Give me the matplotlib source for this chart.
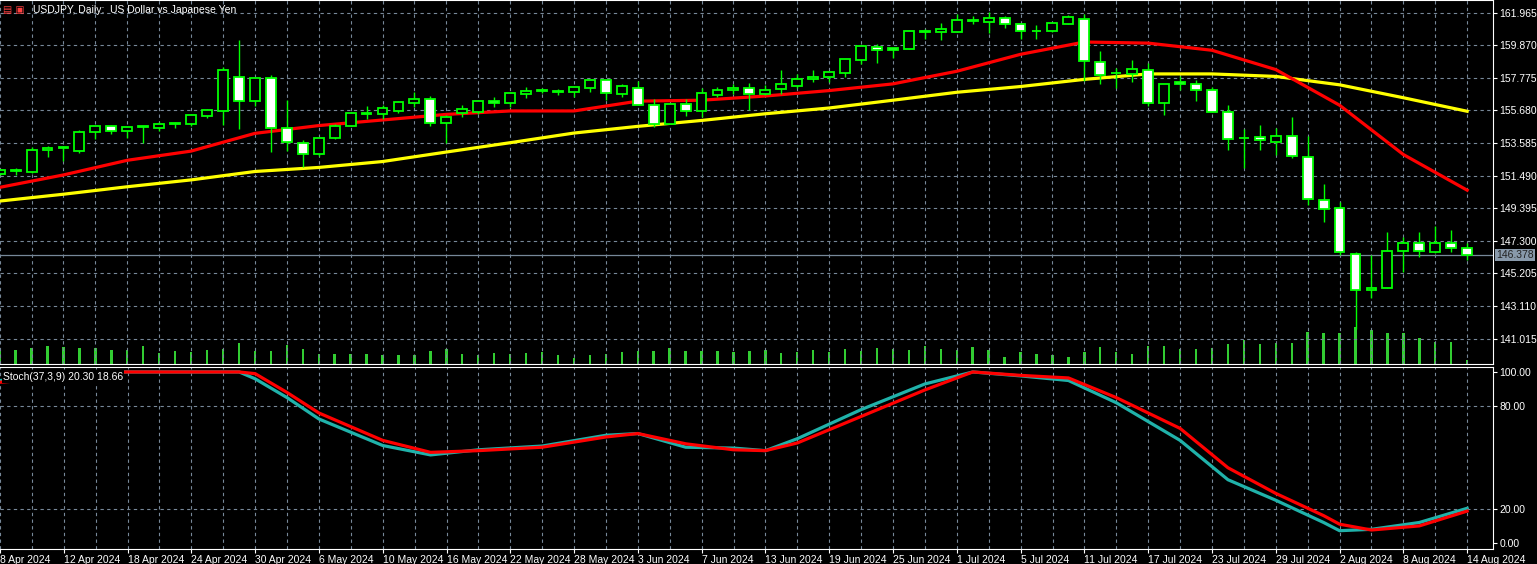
import numpy as np
import matplotlib
matplotlib.use("Agg")
import matplotlib.pyplot as plt
from matplotlib.patches import Rectangle

plt.rcParams['font.family'] = ['Liberation Sans', 'DejaVu Sans']

# daily USDJPY candles, 8 Apr 2024 .. 14 Aug 2024 (93 bars)
opens = [151.60, 151.80, 151.73, 153.11, 153.28, 153.04, 154.31, 154.70, 154.35, 154.63,
         154.55, 154.83, 154.81, 155.33, 155.62, 157.84, 156.31, 157.78, 154.52, 153.59,
         152.87, 153.91, 154.70, 155.46, 155.42, 155.66, 156.18, 156.40, 154.89, 155.51,
         155.57, 156.27, 156.14, 156.71, 156.95, 156.88, 156.84, 157.10, 157.65, 156.73,
         157.10, 156.01, 154.81, 156.07, 155.62, 156.66, 156.97, 157.12, 156.71, 157.03,
         157.25, 157.71, 157.84, 158.10, 158.89, 159.74, 159.67, 159.61, 160.74, 160.70,
         160.70, 161.44, 161.38, 161.64, 161.24, 160.76, 160.81, 161.24, 161.57, 158.80,
         158.08, 158.04, 158.28, 156.14, 157.51, 157.38, 156.99, 155.57, 153.89, 153.98,
         153.65, 154.04, 152.67, 149.90, 149.40, 146.45, 144.16, 144.27, 146.63, 147.17,
         146.58, 147.17, 146.84]
closes = [151.82, 151.80, 153.13, 153.26, 153.28, 154.31, 154.70, 154.35, 154.63, 154.63,
          154.83, 154.83, 155.35, 155.68, 158.30, 156.31, 157.78, 154.57, 153.65, 152.87,
          153.91, 154.70, 155.48, 155.46, 155.81, 156.20, 156.40, 154.89, 155.24, 155.75,
          156.27, 156.14, 156.79, 156.92, 156.95, 156.88, 157.19, 157.65, 156.77, 157.25,
          156.01, 154.81, 156.07, 155.62, 156.79, 156.99, 157.12, 156.71, 156.99, 157.38,
          157.71, 157.84, 158.13, 158.95, 159.81, 159.54, 159.54, 160.79, 160.74, 160.92,
          161.46, 161.44, 161.64, 161.24, 160.81, 160.76, 161.29, 161.68, 158.85, 157.93,
          158.08, 158.34, 156.14, 157.38, 157.36, 156.99, 155.57, 153.83, 153.89, 153.78,
          154.04, 152.73, 150.01, 149.35, 146.58, 144.16, 144.29, 146.65, 147.17, 146.63,
          147.17, 146.84, 146.41]
highs = [151.90, 151.97, 153.32, 153.39, 153.39, 154.44, 154.70, 154.76, 154.63, 154.70,
         154.92, 154.92, 155.35, 155.75, 158.45, 160.20, 157.78, 157.97, 156.34, 153.78,
         153.91, 154.81, 155.57, 155.96, 156.01, 156.29, 156.84, 156.60, 155.35, 156.01,
         156.33, 156.55, 156.88, 157.19, 157.10, 157.03, 157.19, 157.65, 157.65, 157.40,
         157.58, 156.44, 156.07, 156.44, 157.10, 157.19, 157.36, 157.43, 157.32, 158.26,
         158.02, 158.26, 158.13, 158.95, 159.81, 159.94, 159.67, 160.85, 160.92, 161.31,
         161.90, 161.77, 161.97, 161.72, 161.24, 161.14, 161.29, 161.79, 161.86, 159.50,
         158.41, 158.89, 158.74, 157.38, 157.86, 157.64, 157.21, 156.01, 154.48, 154.76,
         154.52, 155.24, 154.04, 150.92, 149.79, 146.58, 146.41, 147.89, 147.56, 147.83,
         148.22, 147.98, 147.17]
lows = [151.50, 151.54, 151.64, 152.69, 152.41, 152.91, 153.87, 154.15, 153.93, 153.56,
        154.37, 154.52, 154.70, 155.18, 154.74, 154.48, 155.96, 152.99, 153.06, 152.04,
        152.73, 153.83, 154.70, 155.13, 155.13, 155.51, 155.88, 154.70, 153.61, 155.22,
        155.46, 155.90, 155.90, 156.49, 156.77, 156.66, 156.55, 156.88, 156.34, 156.55,
        156.01, 154.59, 154.81, 155.31, 155.24, 156.55, 156.71, 155.68, 156.66, 156.71,
        157.10, 157.49, 157.53, 157.80, 158.67, 158.74, 159.06, 159.61, 160.26, 160.22,
        160.70, 161.20, 160.68, 160.94, 160.26, 160.26, 160.70, 161.24, 157.54, 157.36,
        157.10, 157.53, 155.96, 155.35, 156.97, 156.27, 155.57, 153.13, 151.97, 153.13,
        152.84, 152.63, 149.57, 148.51, 146.41, 141.65, 143.61, 144.27, 145.32, 146.26,
        146.52, 146.58, 146.04]
volumes = [14, 14, 16, 18, 17, 16, 16, 14, 14, 18, 11, 13, 12, 14, 15, 21, 13, 13, 19, 15,
           10, 10, 10, 10, 9, 9, 9, 13, 15, 10, 9, 11, 10, 11, 12, 9, 6, 9, 10, 12,
           13, 13, 16, 13, 13, 13, 12, 13, 14, 11, 12, 14, 12, 15, 13, 16, 15, 14, 18, 15,
           14, 17, 14, 7, 12, 10, 9, 7, 12, 17, 12, 10, 18, 18, 15, 15, 16, 20, 24, 20,
           21, 21, 32, 31, 31, 37, 34, 31, 31, 26, 22, 22, 4]

# moving averages read at sampled bars
ma_bars = [0, 4, 8, 12, 16, 20, 24, 28, 32, 36, 40, 44, 48, 52, 56, 60, 64, 68, 72, 76, 80, 84, 88, 92]
ma_fast = [150.73, 151.53, 152.47, 153.06, 154.20, 154.70, 155.06, 155.42, 155.64, 155.64, 156.27, 156.33,
           156.60, 156.95, 157.38, 158.19, 159.28, 160.07, 160.00, 159.54, 158.30, 156.01, 152.84, 150.55]
ma_slow = [149.85, 150.29, 150.77, 151.21, 151.75, 152.01, 152.39, 153.00, 153.60, 154.22, 154.65, 155.03,
           155.46, 155.83, 156.33, 156.84, 157.21, 157.67, 158.02, 158.02, 157.86, 157.32, 156.49, 155.62]

# stochastic (37,3,9) read at sampled bars
st_bars = [0, 4, 7, 11, 15, 16, 18, 20, 24, 27, 30, 34, 38, 40, 43, 46, 48, 50, 54, 58, 61, 64, 67,
           70, 74, 77, 80, 83, 84, 86, 89, 92]
st_main = [95, 97.5, 100, 100, 100, 96, 85, 72.5, 57, 51.5, 54.5, 56.7, 63, 64, 56, 55.5, 54, 61, 78, 93,
           100, 97.7, 95, 82, 60, 37, 25, 12, 7.2, 8, 12, 20.30]
st_signal = [94, 97, 100, 100, 100, 99, 88, 76, 60, 53, 54, 56, 62, 64, 58, 54.5, 54, 58.5, 74, 89.5,
             100, 98, 96.5, 85, 67, 44, 29, 16, 11, 7.6, 10, 18.66]

price_ticks = [161.965, 159.870, 157.775, 155.680, 153.585, 151.490, 149.395, 147.300, 145.205, 143.110, 141.015]
last_price = 146.378
date_labels = ["8 Apr 2024", "12 Apr 2024", "18 Apr 2024", "24 Apr 2024", "30 Apr 2024", "6 May 2024",
               "10 May 2024", "16 May 2024", "22 May 2024", "28 May 2024", "3 Jun 2024", "7 Jun 2024",
               "13 Jun 2024", "19 Jun 2024", "25 Jun 2024", "1 Jul 2024", "5 Jul 2024", "11 Jul 2024",
               "17 Jul 2024", "23 Jul 2024", "29 Jul 2024", "2 Aug 2024", "8 Aug 2024", "14 Aug 2024"]

GRID = "#778899"
LIME = "#00ff00"
W, H = 1537, 564

fig = plt.figure(figsize=(W / 100, H / 100), dpi=100, facecolor="black")
ax = fig.add_axes([0, 1 - 364 / H, 1493 / W, 364 / H], facecolor="black")
axs = fig.add_axes([0, 1 - 549 / H, 1493 / W, 182 / H], facecolor="black")

n = len(opens)
xs = np.arange(n)
xlim = (0.02, 93.62)

# volume sits under the candles
axv = ax.twinx()
axv.set_ylim(0, 364)
axv.bar(xs, volumes, width=0.15, color="#32cd32", zorder=1)
axv.axis("off")
axv.set_xlim(*xlim)
ax.set_zorder(axv.get_zorder() + 1)
ax.patch.set_visible(False)
fig.patch.set_facecolor("black")

for a in (ax, axs):
    a.set_xlim(*xlim)
    for s in a.spines.values():
        s.set_color("white")
    a.spines["left"].set_visible(False)
    a.yaxis.tick_right()
    a.tick_params(axis="y", colors="white", labelsize=7.5, length=3, pad=1.5,
                  left=False, labelleft=False, right=True, labelright=True)
    for k in range(0, n, 2):
        a.axvline(k, color=GRID, lw=0.8, ls=(0, (3, 3)), zorder=0)

ax.set_ylim(139.38, 162.77)
for p in price_ticks:
    ax.axhline(p, color=GRID, lw=0.8, ls=(0, (3, 3)), zorder=0)
ax.axhline(last_price, color=GRID, lw=0.9, zorder=1)

# candles
bw = 0.62
for k in range(n):
    o, c, hi, lo = opens[k], closes[k], highs[k], lows[k]
    ax.plot([k, k], [lo, hi], color=LIME, lw=1, zorder=3, solid_capstyle="butt")
    bottom, top = min(o, c), max(o, c)
    face = "black" if c > o else "white"
    ax.add_patch(Rectangle((k - bw / 2, bottom), bw, max(top - bottom, 0.02),
                           facecolor=face, edgecolor=LIME, lw=1.3, zorder=4))

ax.plot(ma_bars, ma_slow, color="#ffff00", lw=2.3, zorder=2)
ax.plot(ma_bars, ma_fast, color="#ff0000", lw=2.3, zorder=2)

ax.set_yticks(price_ticks)
ax.set_yticklabels([f"{p:.3f}" for p in price_ticks])
ax.set_xticks([])
ax.text(1.0 + 3 / 1493, last_price, f"{last_price:.3f}", transform=ax.get_yaxis_transform(),
        color="#222222", fontsize=7.5, va="center", ha="left",
        bbox=dict(facecolor="#8899aa", edgecolor="none", pad=1.0))
ax.text(0.022, 0.985, "USDJPY, Daily:  US Dollar vs Japanese Yen", transform=ax.transAxes,
        color="white", fontsize=7.5, va="top", ha="left")
ax.text(0.002, 0.985, "\u25a4 \u25a3", transform=ax.transAxes, color="#ff4040",
        fontsize=7, va="top", ha="left", family="DejaVu Sans")

# stochastic panel
axs.set_ylim(-3.5, 102.9)
for lvl in (80, 20):
    axs.axhline(lvl, color=GRID, lw=0.8, ls=(0, (3, 3)), zorder=0)
axs.plot(st_bars, st_main, color="#20b2aa", lw=2.3, zorder=2)
axs.plot(st_bars, st_signal, color="#ff0000", lw=2.3, zorder=3)
axs.set_yticks([100, 80, 20, 0])
axs.set_yticklabels(["100.00", "80.00", "20.00", "0.00"])
axs.text(0.002, 0.975, "Stoch(37,3,9) 20.30 18.66", transform=axs.transAxes, color="white",
         fontsize=7.5, va="top", ha="left", zorder=5,
         bbox=dict(facecolor="black", edgecolor="none", pad=1))

tick_pos = list(range(0, n, 4))
axs.set_xticks(tick_pos)
axs.set_xticklabels(date_labels[:len(tick_pos)], ha="left")
axs.tick_params(axis="x", colors="white", labelsize=7.5, length=3, pad=1)

fig.savefig("out.png", dpi=100, facecolor="black")
